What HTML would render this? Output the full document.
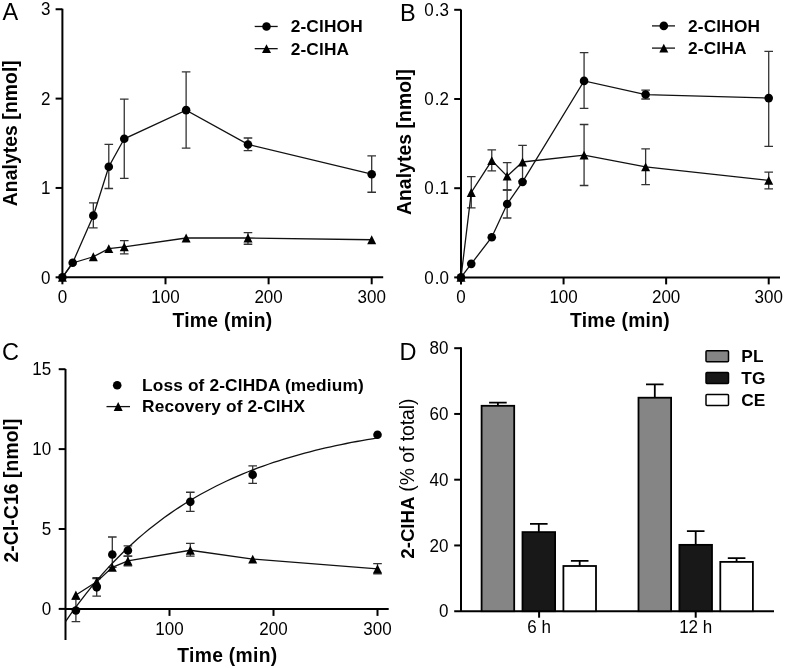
<!DOCTYPE html>
<html><head><meta charset="utf-8"><style>
html,body{margin:0;padding:0;background:#fff;}
svg{display:block;will-change:transform;font-family:"Liberation Sans", sans-serif;}
</style></head><body>
<svg width="785" height="668" viewBox="0 0 785 668">
<rect width="785" height="668" fill="#fff"/>
<text transform="translate(2.40 19.50)" font-size="23.5" font-weight="normal" text-anchor="start" fill="#000">A</text>
<path d="M62.4 8.7 V277.3 H383.2" stroke="#000" stroke-width="2" fill="none"/>
<path d="M55.60 277.30 H62.4" stroke="#000" stroke-width="2" fill="none"/>
<text transform="translate(50.40 283.50) scale(1 1.03)" font-size="17" font-weight="normal" text-anchor="end" fill="#000">0</text>
<path d="M55.60 187.95 H62.4" stroke="#000" stroke-width="2" fill="none"/>
<text transform="translate(50.40 194.15) scale(1 1.03)" font-size="17" font-weight="normal" text-anchor="end" fill="#000">1</text>
<path d="M55.60 98.60 H62.4" stroke="#000" stroke-width="2" fill="none"/>
<text transform="translate(50.40 104.80) scale(1 1.03)" font-size="17" font-weight="normal" text-anchor="end" fill="#000">2</text>
<path d="M55.60 9.25 H62.4" stroke="#000" stroke-width="2" fill="none"/>
<text transform="translate(50.40 15.45) scale(1 1.03)" font-size="17" font-weight="normal" text-anchor="end" fill="#000">3</text>
<path d="M62.40 277.3 V284.3" stroke="#000" stroke-width="2" fill="none"/>
<text transform="translate(62.40 302.90) scale(1 1.03)" font-size="17" font-weight="normal" text-anchor="middle" fill="#000">0</text>
<path d="M165.50 277.3 V284.3" stroke="#000" stroke-width="2" fill="none"/>
<text transform="translate(165.50 302.90) scale(1 1.03)" font-size="17" font-weight="normal" text-anchor="middle" fill="#000">100</text>
<path d="M268.60 277.3 V284.3" stroke="#000" stroke-width="2" fill="none"/>
<text transform="translate(268.60 302.90) scale(1 1.03)" font-size="17" font-weight="normal" text-anchor="middle" fill="#000">200</text>
<path d="M371.70 277.3 V284.3" stroke="#000" stroke-width="2" fill="none"/>
<text transform="translate(371.70 302.90) scale(1 1.03)" font-size="17" font-weight="normal" text-anchor="middle" fill="#000">300</text>
<path d="M93.33 202.96 V227.80 M89.03 202.96 H97.63 M89.03 227.80 H97.63" stroke="#333" stroke-width="1.3" fill="none"/>
<path d="M108.79 144.44 V188.49 M104.49 144.44 H113.09 M104.49 188.49 H113.09" stroke="#333" stroke-width="1.3" fill="none"/>
<path d="M124.26 99.14 V178.30 M119.96 99.14 H128.56 M119.96 178.30 H128.56" stroke="#333" stroke-width="1.3" fill="none"/>
<path d="M186.12 71.97 V148.19 M181.82 71.97 H190.42 M181.82 148.19 H190.42" stroke="#333" stroke-width="1.3" fill="none"/>
<path d="M247.98 138.00 V150.69 M243.68 138.00 H252.28 M243.68 150.69 H252.28" stroke="#333" stroke-width="1.3" fill="none"/>
<path d="M371.70 155.78 V192.24 M367.40 155.78 H376.00 M367.40 192.24 H376.00" stroke="#333" stroke-width="1.3" fill="none"/>
<path d="M124.26 240.67 V253.89 M119.96 240.67 H128.56 M119.96 253.89 H128.56" stroke="#333" stroke-width="1.3" fill="none"/>
<path d="M247.98 232.62 V244.24 M243.68 232.62 H252.28 M243.68 244.24 H252.28" stroke="#333" stroke-width="1.3" fill="none"/>
<path d="M62.40 277.30 L72.71 262.74 L93.33 215.65 L108.79 166.77 L124.26 138.81 L186.12 110.13 L247.98 144.44 L371.70 174.19" stroke="#111" stroke-width="1.3" fill="none"/>
<path d="M62.40 277.30 L72.71 263.00 L93.33 256.75 L108.79 248.71 L124.26 246.83 L186.12 237.99 L247.98 237.99 L371.70 239.77" stroke="#111" stroke-width="1.3" fill="none"/>
<circle cx="62.40" cy="277.30" r="4.3" fill="#000"/>
<circle cx="72.71" cy="262.74" r="4.3" fill="#000"/>
<circle cx="93.33" cy="215.65" r="4.3" fill="#000"/>
<circle cx="108.79" cy="166.77" r="4.3" fill="#000"/>
<circle cx="124.26" cy="138.81" r="4.3" fill="#000"/>
<circle cx="186.12" cy="110.13" r="4.3" fill="#000"/>
<circle cx="247.98" cy="144.44" r="4.3" fill="#000"/>
<circle cx="371.70" cy="174.19" r="4.3" fill="#000"/>
<path d="M62.40 272.90 L66.90 281.70 L57.90 281.70 Z" fill="#000"/>
<path d="M93.33 252.35 L97.83 261.15 L88.83 261.15 Z" fill="#000"/>
<path d="M108.79 244.31 L113.29 253.11 L104.29 253.11 Z" fill="#000"/>
<path d="M124.26 242.43 L128.76 251.23 L119.76 251.23 Z" fill="#000"/>
<path d="M186.12 233.59 L190.62 242.39 L181.62 242.39 Z" fill="#000"/>
<path d="M247.98 233.59 L252.48 242.39 L243.48 242.39 Z" fill="#000"/>
<path d="M371.70 235.37 L376.20 244.17 L367.20 244.17 Z" fill="#000"/>
<path d="M254.7 26.470000000000002 H277.7" stroke="#111" stroke-width="1.3" fill="none"/>
<circle cx="266.50" cy="26.47" r="4.3" fill="#000"/>
<path d="M254.7 48.669999999999995 H277.7" stroke="#111" stroke-width="1.3" fill="none"/>
<path d="M266.50 44.27 L271.00 53.07 L262.00 53.07 Z" fill="#000"/>
<text transform="translate(290.70 32.10)" font-size="17.3" font-weight="bold" text-anchor="start" fill="#000" letter-spacing="0.15">2-ClHOH</text>
<text transform="translate(290.70 54.50)" font-size="17.3" font-weight="bold" text-anchor="start" fill="#000" letter-spacing="0.15">2-ClHA</text>
<text transform="translate(16.60 133.20) rotate(-90)" font-size="19.3" font-weight="bold" text-anchor="middle" fill="#000" letter-spacing="0.1">Analytes [nmol]</text>
<text transform="translate(222.50 327.00)" font-size="19.3" font-weight="bold" text-anchor="middle" fill="#000" letter-spacing="0.3">Time (min)</text>
<text transform="translate(400.00 20.70)" font-size="23.5" font-weight="normal" text-anchor="start" fill="#000">B</text>
<path d="M461 9.5 V277.4 H780" stroke="#000" stroke-width="2" fill="none"/>
<path d="M454.20 277.40 H461" stroke="#000" stroke-width="2" fill="none"/>
<text transform="translate(449.00 283.60) scale(1 1.03)" font-size="17" text-anchor="end">0<tspan dx="0.9">.</tspan><tspan dx="0.2">0</tspan></text>
<path d="M454.20 188.20 H461" stroke="#000" stroke-width="2" fill="none"/>
<text transform="translate(449.00 194.40) scale(1 1.03)" font-size="17" text-anchor="end">0<tspan dx="0.9">.</tspan><tspan dx="0.2">1</tspan></text>
<path d="M454.20 99.00 H461" stroke="#000" stroke-width="2" fill="none"/>
<text transform="translate(449.00 105.20) scale(1 1.03)" font-size="17" text-anchor="end">0<tspan dx="0.9">.</tspan><tspan dx="0.2">2</tspan></text>
<path d="M454.20 9.80 H461" stroke="#000" stroke-width="2" fill="none"/>
<text transform="translate(449.00 16.00) scale(1 1.03)" font-size="17" text-anchor="end">0<tspan dx="0.9">.</tspan><tspan dx="0.2">3</tspan></text>
<path d="M461.00 277.4 V284.4" stroke="#000" stroke-width="2" fill="none"/>
<text transform="translate(461.00 303.00) scale(1 1.03)" font-size="17" font-weight="normal" text-anchor="middle" fill="#000">0</text>
<path d="M563.57 277.4 V284.4" stroke="#000" stroke-width="2" fill="none"/>
<text transform="translate(563.57 303.00) scale(1 1.03)" font-size="17" font-weight="normal" text-anchor="middle" fill="#000">100</text>
<path d="M666.14 277.4 V284.4" stroke="#000" stroke-width="2" fill="none"/>
<text transform="translate(666.14 303.00) scale(1 1.03)" font-size="17" font-weight="normal" text-anchor="middle" fill="#000">200</text>
<path d="M768.71 277.4 V284.4" stroke="#000" stroke-width="2" fill="none"/>
<text transform="translate(768.71 303.00) scale(1 1.03)" font-size="17" font-weight="normal" text-anchor="middle" fill="#000">300</text>
<path d="M507.16 189.98 V217.99 M502.86 189.98 H511.46 M502.86 217.99 H511.46" stroke="#333" stroke-width="1.3" fill="none"/>
<path d="M584.08 52.62 V108.37 M579.78 52.62 H588.38 M579.78 108.37 H588.38" stroke="#333" stroke-width="1.3" fill="none"/>
<path d="M645.63 90.08 V99.00 M641.33 90.08 H649.93 M641.33 99.00 H649.93" stroke="#333" stroke-width="1.3" fill="none"/>
<path d="M768.71 51.28 V146.45 M764.41 51.28 H773.01 M764.41 146.45 H773.01" stroke="#333" stroke-width="1.3" fill="none"/>
<path d="M471.26 176.60 V207.82 M466.96 176.60 H475.56 M466.96 207.82 H475.56" stroke="#333" stroke-width="1.3" fill="none"/>
<path d="M491.77 149.84 V170.81 M487.47 149.84 H496.07 M487.47 170.81 H496.07" stroke="#333" stroke-width="1.3" fill="none"/>
<path d="M507.16 162.69 V189.98 M502.86 162.69 H511.46 M502.86 189.98 H511.46" stroke="#333" stroke-width="1.3" fill="none"/>
<path d="M522.54 145.38 V181.06 M518.24 145.38 H526.84 M518.24 181.06 H526.84" stroke="#333" stroke-width="1.3" fill="none"/>
<path d="M584.08 124.51 V185.52 M579.78 124.51 H588.38 M579.78 185.52 H588.38" stroke="#333" stroke-width="1.3" fill="none"/>
<path d="M645.63 148.95 V184.63 M641.33 148.95 H649.93 M641.33 184.63 H649.93" stroke="#333" stroke-width="1.3" fill="none"/>
<path d="M768.71 172.14 V188.82 M764.41 172.14 H773.01 M764.41 188.82 H773.01" stroke="#333" stroke-width="1.3" fill="none"/>
<path d="M461.00 277.40 L471.26 263.84 L491.77 237.26 L507.16 203.99 L522.54 181.96 L584.08 80.89 L645.63 94.54 L768.71 98.11" stroke="#111" stroke-width="1.3" fill="none"/>
<path d="M461.00 277.40 L471.26 192.48 L491.77 160.55 L507.16 176.16 L522.54 161.98 L584.08 155.20 L645.63 166.79 L768.71 180.44" stroke="#111" stroke-width="1.3" fill="none"/>
<circle cx="461.00" cy="277.40" r="4.3" fill="#000"/>
<circle cx="471.26" cy="263.84" r="4.3" fill="#000"/>
<circle cx="491.77" cy="237.26" r="4.3" fill="#000"/>
<circle cx="507.16" cy="203.99" r="4.3" fill="#000"/>
<circle cx="522.54" cy="181.96" r="4.3" fill="#000"/>
<circle cx="584.08" cy="80.89" r="4.3" fill="#000"/>
<circle cx="645.63" cy="94.54" r="4.3" fill="#000"/>
<circle cx="768.71" cy="98.11" r="4.3" fill="#000"/>
<path d="M461.00 273.00 L465.50 281.80 L456.50 281.80 Z" fill="#000"/>
<path d="M471.26 188.08 L475.76 196.88 L466.76 196.88 Z" fill="#000"/>
<path d="M491.77 156.15 L496.27 164.95 L487.27 164.95 Z" fill="#000"/>
<path d="M507.16 171.76 L511.66 180.56 L502.66 180.56 Z" fill="#000"/>
<path d="M522.54 157.58 L527.04 166.38 L518.04 166.38 Z" fill="#000"/>
<path d="M584.08 150.80 L588.58 159.60 L579.58 159.60 Z" fill="#000"/>
<path d="M645.63 162.39 L650.13 171.19 L641.13 171.19 Z" fill="#000"/>
<path d="M768.71 176.04 L773.21 184.84 L764.21 184.84 Z" fill="#000"/>
<path d="M652 25.8993 H675" stroke="#111" stroke-width="1.3" fill="none"/>
<circle cx="663.80" cy="25.90" r="4.3" fill="#000"/>
<path d="M652 48.0993 H675" stroke="#111" stroke-width="1.3" fill="none"/>
<path d="M663.80 43.70 L668.30 52.50 L659.30 52.50 Z" fill="#000"/>
<text transform="translate(688.00 31.80)" font-size="17.3" font-weight="bold" text-anchor="start" fill="#000" letter-spacing="0.15">2-ClHOH</text>
<text transform="translate(688.00 54.20)" font-size="17.3" font-weight="bold" text-anchor="start" fill="#000" letter-spacing="0.15">2-ClHA</text>
<text transform="translate(411.00 142.00) rotate(-90)" font-size="19.3" font-weight="bold" text-anchor="middle" fill="#000" letter-spacing="0.1">Analytes [nmol]</text>
<text transform="translate(620.00 327.40)" font-size="19.3" font-weight="bold" text-anchor="middle" fill="#000" letter-spacing="0.3">Time (min)</text>
<text transform="translate(2.00 359.50)" font-size="23.5" font-weight="normal" text-anchor="start" fill="#000">C</text>
<path d="M65.5 369 V640" stroke="#000" stroke-width="2" fill="none"/>
<path d="M65.5 608.9 H388.7" stroke="#000" stroke-width="2" fill="none"/>
<path d="M58.70 608.90 H65.5" stroke="#000" stroke-width="2" fill="none"/>
<text transform="translate(51.20 615.10) scale(1 1.03)" font-size="17" font-weight="normal" text-anchor="end" fill="#000">0</text>
<path d="M58.70 529.00 H65.5" stroke="#000" stroke-width="2" fill="none"/>
<text transform="translate(51.20 535.20) scale(1 1.03)" font-size="17" font-weight="normal" text-anchor="end" fill="#000">5</text>
<path d="M58.70 449.10 H65.5" stroke="#000" stroke-width="2" fill="none"/>
<text transform="translate(51.20 455.30) scale(1 1.03)" font-size="17" font-weight="normal" text-anchor="end" fill="#000">10</text>
<path d="M58.70 369.20 H65.5" stroke="#000" stroke-width="2" fill="none"/>
<text transform="translate(51.20 375.40) scale(1 1.03)" font-size="17" font-weight="normal" text-anchor="end" fill="#000">15</text>
<path d="M169.50 608.9 V615.9" stroke="#000" stroke-width="2" fill="none"/>
<text transform="translate(169.50 635.40) scale(1 1.03)" font-size="17" font-weight="normal" text-anchor="middle" fill="#000">100</text>
<path d="M273.50 608.9 V615.9" stroke="#000" stroke-width="2" fill="none"/>
<text transform="translate(273.50 635.40) scale(1 1.03)" font-size="17" font-weight="normal" text-anchor="middle" fill="#000">200</text>
<path d="M377.50 608.9 V615.9" stroke="#000" stroke-width="2" fill="none"/>
<text transform="translate(377.50 635.40) scale(1 1.03)" font-size="17" font-weight="normal" text-anchor="middle" fill="#000">300</text>
<path d="M75.90 599.31 V621.68 M71.60 599.31 H80.20 M71.60 621.68 H80.20" stroke="#333" stroke-width="1.3" fill="none"/>
<path d="M96.70 578.54 V596.12 M92.40 578.54 H101.00 M92.40 596.12 H101.00" stroke="#333" stroke-width="1.3" fill="none"/>
<path d="M112.30 536.99 V567.35 M108.00 536.99 H116.60 M108.00 567.35 H116.60" stroke="#333" stroke-width="1.3" fill="none"/>
<path d="M127.90 545.78 V556.17 M123.60 545.78 H132.20 M123.60 556.17 H132.20" stroke="#333" stroke-width="1.3" fill="none"/>
<path d="M190.30 492.25 V511.42 M186.00 492.25 H194.60 M186.00 511.42 H194.60" stroke="#333" stroke-width="1.3" fill="none"/>
<path d="M252.70 465.88 V483.46 M248.40 465.88 H257.00 M248.40 483.46 H257.00" stroke="#333" stroke-width="1.3" fill="none"/>
<path d="M96.70 577.74 V586.53 M92.40 577.74 H101.00 M92.40 586.53 H101.00" stroke="#333" stroke-width="1.3" fill="none"/>
<path d="M127.90 556.17 V565.75 M123.60 556.17 H132.20 M123.60 565.75 H132.20" stroke="#333" stroke-width="1.3" fill="none"/>
<path d="M190.30 543.38 V556.17 M186.00 543.38 H194.60 M186.00 556.17 H194.60" stroke="#333" stroke-width="1.3" fill="none"/>
<path d="M377.50 563.68 V573.74 M373.20 563.68 H381.80 M373.20 573.74 H381.80" stroke="#333" stroke-width="1.3" fill="none"/>
<path d="M65.50 621.68 L70.70 614.20 L75.90 606.98 L81.10 600.03 L86.30 593.33 L91.50 586.87 L96.70 580.64 L101.90 574.65 L107.10 568.87 L112.30 563.30 L117.50 557.93 L122.70 552.76 L127.90 547.77 L133.10 542.97 L138.30 538.34 L143.50 533.88 L148.70 529.58 L153.90 525.44 L159.10 521.45 L164.30 517.60 L169.50 513.90 L174.70 510.32 L179.90 506.88 L185.10 503.56 L190.30 500.36 L195.50 497.28 L200.70 494.31 L205.90 491.45 L211.10 488.70 L216.30 486.04 L221.50 483.48 L226.70 481.01 L231.90 478.63 L237.10 476.34 L242.30 474.13 L247.50 472.00 L252.70 469.95 L257.90 467.98 L263.10 466.07 L268.30 464.24 L273.50 462.47 L278.70 460.76 L283.90 459.12 L289.10 457.54 L294.30 456.01 L299.50 454.54 L304.70 453.13 L309.90 451.76 L315.10 450.44 L320.30 449.18 L325.50 447.96 L330.70 446.78 L335.90 445.64 L341.10 444.55 L346.30 443.50 L351.50 442.48 L356.70 441.50 L361.90 440.56 L367.10 439.65 L372.30 438.77 L377.50 437.93" stroke="#111" stroke-width="1.3" fill="none"/>
<path d="M75.90 595.00 L96.70 581.73 L112.30 567.35 L127.90 560.96 L190.30 550.25 L252.70 559.04 L377.50 568.95" stroke="#111" stroke-width="1.3" fill="none"/>
<circle cx="75.90" cy="610.50" r="4.3" fill="#000"/>
<circle cx="96.70" cy="587.33" r="4.3" fill="#000"/>
<circle cx="112.30" cy="554.57" r="4.3" fill="#000"/>
<circle cx="127.90" cy="550.57" r="4.3" fill="#000"/>
<circle cx="190.30" cy="501.83" r="4.3" fill="#000"/>
<circle cx="252.70" cy="474.67" r="4.3" fill="#000"/>
<circle cx="377.50" cy="434.72" r="4.3" fill="#000"/>
<path d="M75.90 590.60 L80.40 599.40 L71.40 599.40 Z" fill="#000"/>
<path d="M96.70 577.33 L101.20 586.13 L92.20 586.13 Z" fill="#000"/>
<path d="M112.30 562.95 L116.80 571.75 L107.80 571.75 Z" fill="#000"/>
<path d="M127.90 556.56 L132.40 565.36 L123.40 565.36 Z" fill="#000"/>
<path d="M190.30 545.85 L194.80 554.65 L185.80 554.65 Z" fill="#000"/>
<path d="M252.70 554.64 L257.20 563.44 L248.20 563.44 Z" fill="#000"/>
<path d="M377.50 564.55 L382.00 573.35 L373.00 573.35 Z" fill="#000"/>
<circle cx="117.20" cy="385.20" r="4.3" fill="#000"/>
<path d="M106.5 406.6 H130" stroke="#111" stroke-width="1.3" fill="none"/>
<path d="M118.20 402.10 L122.70 410.90 L113.70 410.90 Z" fill="#000"/>
<text transform="translate(142.00 391.10)" font-size="17.3" font-weight="bold" text-anchor="start" fill="#000" letter-spacing="0.15">Loss of 2-ClHDA (medium)</text>
<text transform="translate(142.00 411.80)" font-size="17.3" font-weight="bold" text-anchor="start" fill="#000" letter-spacing="0.15">Recovery of 2-ClHX</text>
<text transform="translate(17.50 490.50) rotate(-90)" font-size="19.3" font-weight="bold" text-anchor="middle" fill="#000" letter-spacing="0.1">2-Cl-C16 [nmol]</text>
<text transform="translate(227.40 661.50)" font-size="19.3" font-weight="bold" text-anchor="middle" fill="#000" letter-spacing="0.3">Time (min)</text>
<text transform="translate(399.50 359.50)" font-size="23.5" font-weight="normal" text-anchor="start" fill="#000">D</text>
<path d="M461 347.3 V611.2" stroke="#000" stroke-width="2" fill="none"/>
<path d="M454.2 611.2 H774" stroke="#000" stroke-width="2" fill="none"/>
<path d="M454.20 545.45 H461" stroke="#000" stroke-width="2" fill="none"/>
<text transform="translate(448.50 551.65) scale(1 1.03)" font-size="17" font-weight="normal" text-anchor="end" fill="#000">20</text>
<path d="M454.20 479.70 H461" stroke="#000" stroke-width="2" fill="none"/>
<text transform="translate(448.50 485.90) scale(1 1.03)" font-size="17" font-weight="normal" text-anchor="end" fill="#000">40</text>
<path d="M454.20 413.95 H461" stroke="#000" stroke-width="2" fill="none"/>
<text transform="translate(448.50 420.15) scale(1 1.03)" font-size="17" font-weight="normal" text-anchor="end" fill="#000">60</text>
<path d="M454.20 348.20 H461" stroke="#000" stroke-width="2" fill="none"/>
<text transform="translate(448.50 354.40) scale(1 1.03)" font-size="17" font-weight="normal" text-anchor="end" fill="#000">80</text>
<text transform="translate(448.50 617.40) scale(1 1.03)" font-size="17" font-weight="normal" text-anchor="end" fill="#000">0</text>
<path d="M539.1 611.2 V617.7" stroke="#000" stroke-width="2" fill="none"/>
<text transform="translate(539.10 632.90) scale(1 1.03)" font-size="17" font-weight="normal" text-anchor="middle" fill="#000">6 h</text>
<path d="M695.7 611.2 V617.7" stroke="#000" stroke-width="2" fill="none"/>
<text transform="translate(695.70 632.90) scale(1 1.03)" font-size="17" font-weight="normal" text-anchor="middle" fill="#000">12 h</text>
<path d="M497.90 405.80 V402.61 M489.10 402.61 H506.70" stroke="#000" stroke-width="1.8" fill="none"/>
<rect x="481.60" y="405.80" width="32.60" height="205.40" fill="#858585" stroke="#000" stroke-width="1.8"/>
<path d="M538.80 532.10 V523.79 M530.00 523.79 H547.60" stroke="#000" stroke-width="1.8" fill="none"/>
<rect x="522.50" y="532.10" width="32.60" height="79.10" fill="#181818" stroke="#000" stroke-width="1.8"/>
<path d="M579.70 566.00 V560.80 M570.90 560.80 H588.50" stroke="#000" stroke-width="1.8" fill="none"/>
<rect x="563.40" y="566.00" width="32.60" height="45.20" fill="#fff" stroke="#000" stroke-width="1.8"/>
<path d="M654.80 397.71 V384.30 M646.00 384.30 H663.60" stroke="#000" stroke-width="1.8" fill="none"/>
<rect x="638.50" y="397.71" width="32.60" height="213.49" fill="#858585" stroke="#000" stroke-width="1.8"/>
<path d="M695.70 544.86 V531.08 M686.90 531.08 H704.50" stroke="#000" stroke-width="1.8" fill="none"/>
<rect x="679.40" y="544.86" width="32.60" height="66.34" fill="#181818" stroke="#000" stroke-width="1.8"/>
<path d="M736.60 561.89 V558.11 M727.80 558.11 H745.40" stroke="#000" stroke-width="1.8" fill="none"/>
<rect x="720.30" y="561.89" width="32.60" height="49.31" fill="#fff" stroke="#000" stroke-width="1.8"/>
<rect x="706" y="350.75" width="22.5" height="11" rx="1" fill="#858585" stroke="#000" stroke-width="1.5"/>
<text transform="translate(741.20 362.25)" font-size="17.3" font-weight="bold" text-anchor="start" fill="#000" letter-spacing="0.15">PL</text>
<rect x="706" y="372.60" width="22.5" height="11" rx="1" fill="#181818" stroke="#000" stroke-width="1.5"/>
<text transform="translate(741.20 384.10)" font-size="17.3" font-weight="bold" text-anchor="start" fill="#000" letter-spacing="0.15">TG</text>
<rect x="706" y="394.45" width="22.5" height="11" rx="1" fill="#fff" stroke="#000" stroke-width="1.5"/>
<text transform="translate(741.20 405.95)" font-size="17.3" font-weight="bold" text-anchor="start" fill="#000" letter-spacing="0.15">CE</text>
<text transform="translate(414 478.6) rotate(-90)" font-size="19.3" text-anchor="middle"><tspan font-weight="bold" font-size="18.7">2-ClHA</tspan><tspan dx="-0.6"> (% of total)</tspan></text>
</svg>
</body></html>
